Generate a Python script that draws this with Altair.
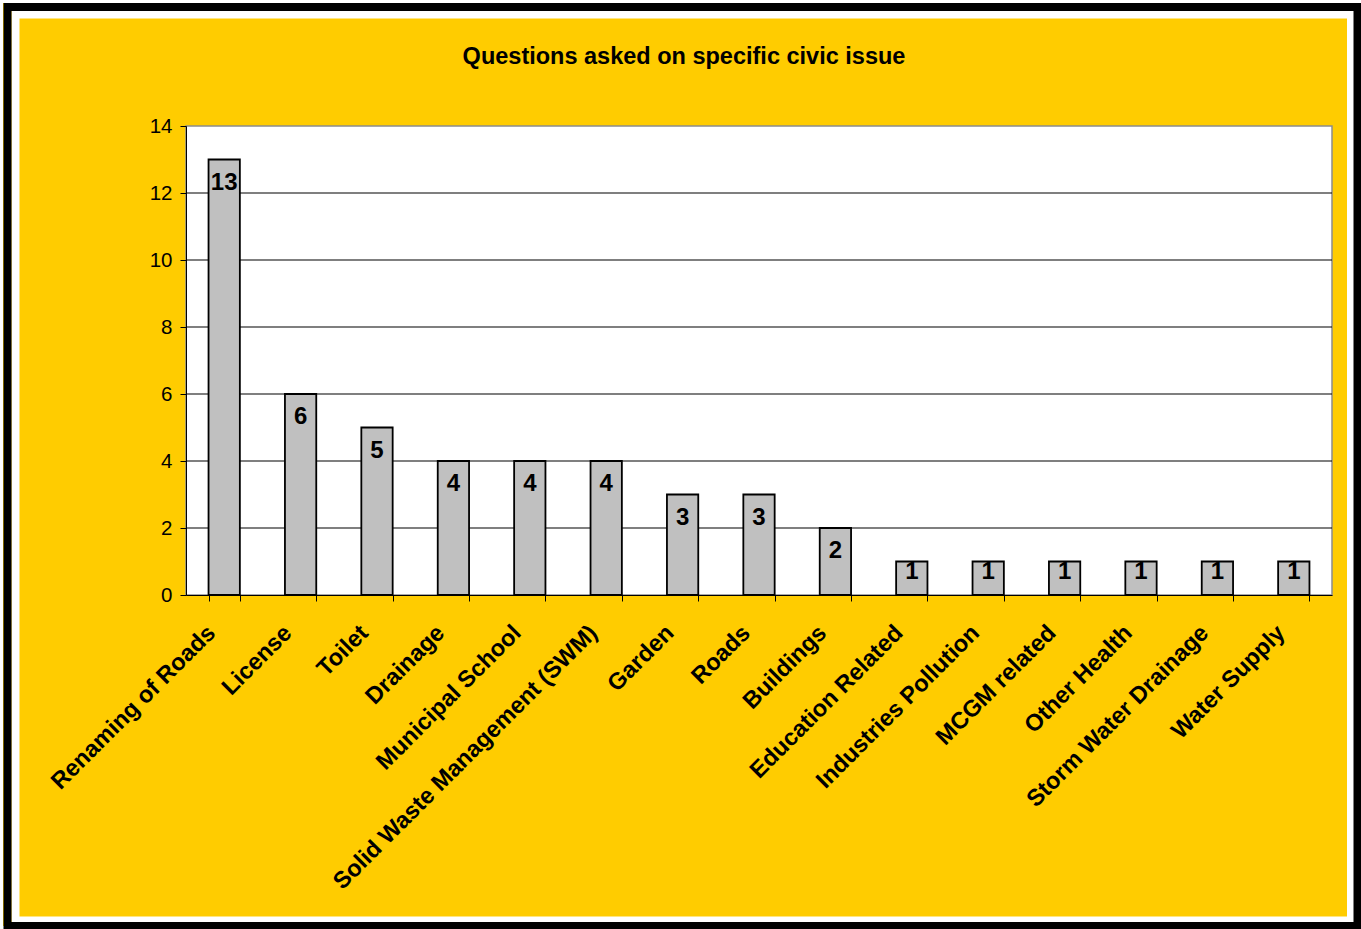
import altair as alt
import pandas as pd

# Civic issues and the number of questions asked on each
categories = [
    "Renaming of Roads", "License", "Toilet", "Drainage", "Municipal School",
    "Solid Waste Management (SWM)", "Garden", "Roads", "Buildings",
    "Education Related", "Industries Pollution", "MCGM related",
    "Other Health", "Storm Water Drainage", "Water Supply",
]
counts = [13, 6, 5, 4, 4, 4, 3, 3, 2, 1, 1, 1, 1, 1, 1]
y_ticks = [0, 2, 4, 6, 8, 10, 12, 14]
grid_lines = [2, 4, 6, 8, 10, 12]

TITLE = "Questions asked on specific civic issue"
FONT = "Liberation Sans"

# plot area and surrounding padding (page is 1361 x 929)
W, H = 1146, 469
PL, PT, PR, PB = 186, 126, 29, 334

bars_df = pd.DataFrame({"issue": categories, "count": counts})
grid_df = pd.DataFrame({"v": grid_lines})

y_scale = alt.Scale(domain=[0, 14], nice=False)

x_enc = alt.X(
    "issue:N",
    sort=categories,
    scale=alt.Scale(paddingInner=0.59, paddingOuter=0.295),
    axis=alt.Axis(
        title=None, labelAngle=-45, labelAlign="right", labelBaseline="middle",
        labelFont=FONT, labelFontWeight="bold", labelFontSize=23.5, labelColor="black",
        labelPadding=28, labelOffset=-13, labelOverlap=False, labelLimit=0,
        tickBand="extent", tickSize=6, tickColor="black", tickWidth=1,
        domainColor="black", domainWidth=1, grid=False,
    ),
)
y_enc = alt.Y(
    "count:Q",
    scale=y_scale,
    axis=alt.Axis(
        title=None, values=y_ticks, grid=False,
        labelFont=FONT, labelFontSize=20.5, labelColor="black", labelPadding=8,
        tickSize=6, tickColor="black", domainColor="black", domainWidth=1,
    ),
)

grid = alt.Chart(grid_df).mark_rule(color="black", strokeWidth=1.2).encode(
    y=alt.Y("v:Q", scale=y_scale)
)

bars = alt.Chart(bars_df).mark_bar(
    color="#C0C0C0", stroke="black", strokeWidth=1.8
).encode(x=x_enc, y=y_enc)

# value labels sit just inside the top of each bar; the shortest bars get a
# smaller inset so the label stays inside the bar
labels = alt.Chart(bars_df).transform_calculate(
    label_pos="datum.count - (datum.count > 1 ? 0.69 : 0.32)"
).mark_text(
    font=FONT, fontWeight="bold", fontSize=24, color="black", baseline="middle",
).encode(
    x=alt.X("issue:N", sort=categories),
    y=alt.Y("label_pos:Q", scale=y_scale),
    text="count:Q",
)

title = alt.Chart(alt.Data(values=[{"t": TITLE}])).mark_text(
    font=FONT, fontWeight="bold", fontSize=23.5, color="black",
    align="center", baseline="alphabetic",
).encode(x=alt.value(684 - PL), y=alt.value(64 - PT), text="t:N")


def frame(x0, y0, x1, y1, color, width):
    # stroked outline in page coordinates, shifted into plot coordinates
    return alt.Chart(alt.Data(values=[{"f": 1}])).mark_rect(
        fillOpacity=0, stroke=color, strokeWidth=width
    ).encode(
        x=alt.value(x0 - PL), x2=alt.value(x1 - PL),
        y=alt.value(y0 - PT), y2=alt.value(y1 - PT),
    )


outer_white = frame(0, 0, 1361, 929, "white", 6)
inner_white = frame(15.5, 14.5, 1351, 920.5, "white", 8)
black_border = frame(7.5, 7, 1357.5, 926, "black", 8)

chart = alt.layer(
    grid, bars, labels, title, outer_white, inner_white, black_border
).properties(
    width=W, height=H,
    background="#FFCC00",
    padding={"left": PL, "top": PT, "right": PR, "bottom": PB},
    autosize=alt.AutoSizeParams(type="none"),
).configure_view(
    fill="white", stroke="#8C8C8C", strokeWidth=1.5
)

chart.save("out.html", embed_options={"renderer": "svg", "actions": False})
